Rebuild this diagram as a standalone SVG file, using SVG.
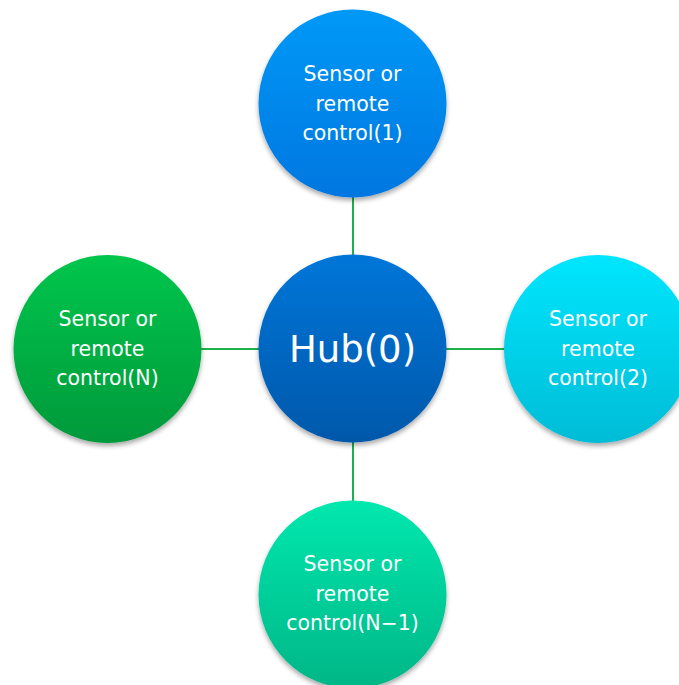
<svg xmlns="http://www.w3.org/2000/svg" width="679" height="685" viewBox="0 0 679 685">
<defs>
<linearGradient id="gTop" x1="0" y1="0" x2="0" y2="1"><stop offset="0" stop-color="#0399f7"/><stop offset="1" stop-color="#0177e0"/></linearGradient>
<linearGradient id="gHub" x1="0" y1="0" x2="0" y2="1"><stop offset="0" stop-color="#0276d9"/><stop offset="1" stop-color="#0258aa"/></linearGradient>
<linearGradient id="gLeft" x1="0" y1="0" x2="0" y2="1"><stop offset="0" stop-color="#03c64c"/><stop offset="1" stop-color="#02993b"/></linearGradient>
<linearGradient id="gRight" x1="0" y1="0" x2="0" y2="1"><stop offset="0" stop-color="#03e6fe"/><stop offset="1" stop-color="#02bcd6"/></linearGradient>
<linearGradient id="gBot" x1="0" y1="0" x2="0" y2="1"><stop offset="0" stop-color="#03e8ae"/><stop offset="1" stop-color="#02b686"/></linearGradient>
<filter id="sh" x="-20%" y="-20%" width="140%" height="140%">
<feGaussianBlur in="SourceAlpha" stdDeviation="2.5"/>
<feOffset dx="0" dy="3" result="b"/>
<feComponentTransfer><feFuncA type="linear" slope="0.35"/></feComponentTransfer>
<feMerge><feMergeNode/><feMergeNode in="SourceGraphic"/></feMerge>
</filter>
</defs>
<style>
.c{stroke:#1db14c;stroke-width:2;fill:none}
.t{font-family:"DejaVu Sans",Verdana,sans-serif;font-size:20.5px;fill:#ffffff;text-anchor:middle}
.h{font-family:"DejaVu Sans",Verdana,sans-serif;font-size:37px;fill:#ffffff;text-anchor:middle}
</style>
<rect width="679" height="685" fill="#ffffff"/>
<g id="connectors">
<line class="c" x1="353" y1="197" x2="353" y2="256"/>
<line class="c" x1="353" y1="442" x2="353" y2="501"/>
<line class="c" x1="201" y1="349" x2="259" y2="349"/>
<line class="c" x1="446" y1="349" x2="505" y2="349"/>
</g>
<g id="hub">
<circle cx="352.5" cy="348.5" r="94" fill="url(#gHub)" filter="url(#sh)"/>
<text class="h" x="352.5" y="362">Hub(0)</text>
</g>
<g id="node1">
<circle cx="352.5" cy="103.5" r="94" fill="url(#gTop)" filter="url(#sh)"/>
<text class="t" x="352.5" y="81">Sensor or</text>
<text class="t" x="352.5" y="110.5">remote</text>
<text class="t" x="352.5" y="140">control(1)</text>
</g>
<g id="node2">
<circle cx="598" cy="349" r="94" fill="url(#gRight)" filter="url(#sh)"/>
<text class="t" x="598" y="326">Sensor or</text>
<text class="t" x="598" y="355.5">remote</text>
<text class="t" x="598" y="385">control(2)</text>
</g>
<g id="nodeN">
<circle cx="107.5" cy="349" r="94" fill="url(#gLeft)" filter="url(#sh)"/>
<text class="t" x="107.5" y="326">Sensor or</text>
<text class="t" x="107.5" y="355.5">remote</text>
<text class="t" x="107.5" y="385">control(N)</text>
</g>
<g id="nodeN1">
<circle cx="352.5" cy="594.5" r="94" fill="url(#gBot)" filter="url(#sh)"/>
<text class="t" x="352.5" y="571">Sensor or</text>
<text class="t" x="352.5" y="600.5">remote</text>
<text class="t" x="352.5" y="630">control(N−1)</text>
</g>
</svg>
